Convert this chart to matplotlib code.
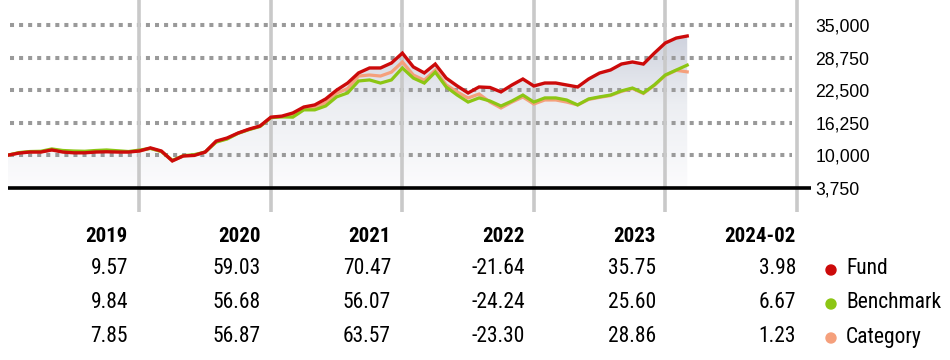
import numpy as np
import matplotlib
matplotlib.use("Agg")
import matplotlib.pyplot as plt
from matplotlib.colors import LinearSegmentedColormap

# growth of 10,000, month-end values, Dec 2018 .. Feb 2024
fund = [10000, 10400, 10600, 10600, 11000, 10600, 10450, 10450, 10600, 10650, 10600, 10600,
        10800, 11400, 10800, 8900, 9850, 9950, 10600, 12700, 13300, 14250, 15000, 15600,
        17300, 17500, 18100, 19250, 19650, 20800, 22500, 23850, 25800, 26750, 26750, 27700,
        29600, 26950, 25800, 27500, 24800, 23300, 21950, 23100, 23000, 22150, 23480, 24630,
        23290, 23860, 23860, 23480, 23100, 24630, 25780, 26360, 27510, 27900, 27500, 29600,
        31550, 32500, 32890]
benchmark = [10000, 10500, 10700, 10750, 11200, 10900, 10800, 10750, 10900, 11000, 10850, 10700,
             10980, 11300, 10700, 9000, 9900, 10100, 10600, 12500, 13100, 14200, 14900, 15500,
             17200, 17350, 17300, 18700, 18700, 19450, 21200, 21950, 24250, 24450, 23850, 24450,
             26750, 24800, 23850, 25950, 23100, 21550, 20200, 21000, 20400, 19450, 20400, 21550,
             20200, 21000, 21000, 20600, 19650, 20800, 21200, 21550, 22350, 22900, 21950, 23500,
             25400, 26350, 27300]
category = [10000, 10450, 10650, 10650, 11050, 10700, 10600, 10550, 10700, 10800, 10700, 10650,
            10800, 11300, 10700, 8900, 9850, 10000, 10600, 12600, 13200, 14200, 14950, 15550,
            17250, 17400, 17700, 18900, 19100, 20100, 21900, 22800, 25200, 25400, 25200, 25950,
            27900, 25400, 24400, 26350, 23500, 22150, 20980, 21750, 20200, 19060, 20200, 21170,
            19830, 20600, 20600, 20200, 19650, 20700, 21100, 21450, 22250, 22800, 21850, 23400,
            25300, 26300, 26000]

years = ["2019", "2020", "2021", "2022", "2023", "2024-02"]
fund_ret = ["9.57", "59.03", "70.47", "-21.64", "35.75", "3.98"]
bench_ret = ["9.84", "56.68", "56.07", "-24.24", "25.60", "6.67"]
cat_ret = ["7.85", "56.87", "63.57", "-23.30", "28.86", "1.23"]
yticks = [3750, 10000, 16250, 22500, 28750, 35000]

RED = "#cc0a0a"
GREEN = "#8cc614"
ORANGE = "#f5a07c"

W, H = 950, 360
fig = plt.figure(figsize=(W / 100, H / 100), dpi=100)

# chart area in pixels: x 8..811, y 0..212
ax = fig.add_axes([8 / W, 1 - 212 / H, (811 - 8) / W, 212 / H])
months = np.arange(len(fund))
ax.set_xlim(0, 73.3)
ax.set_ylim(-918, 39807)

# gradient fill under the fund line
cmap = LinearSegmentedColormap.from_list("g", ["#fcfcfd", "#eceef2", "#c8ccd9"])
grad = np.linspace(0, 1, 256).reshape(-1, 1)
img = ax.imshow(grad, cmap=cmap, aspect="auto", origin="lower",
                extent=[0, months[-1], 3750, 36000], zorder=1)
poly = ax.fill_between(months, 3750, fund, color="none", lw=0)
img.set_clip_path(poly.get_paths()[0], transform=ax.transData)

for yv in yticks[1:]:
    ax.plot([0.2, 71.6], [yv, yv], color="#9a9a9a", lw=2.9, dashes=(1, 1.25),
            dash_capstyle="butt", zorder=2)
for xv in [12, 24, 36, 48, 60, 72]:
    ax.axvline(xv, color="#c9c9c9", lw=2.6, zorder=2)
ax.axhline(3750, color="black", lw=2.6, zorder=5)

ax.plot(months, category, color=ORANGE, lw=2.3, zorder=3, solid_joinstyle="miter")
ax.plot(months, benchmark, color=GREEN, lw=2.3, zorder=3.5, solid_joinstyle="miter")
ax.plot(months, fund, color=RED, lw=2.4, zorder=4, solid_joinstyle="miter")

ax.yaxis.tick_right()
ax.set_yticks(yticks)
ax.set_yticklabels([f"{v:,}" for v in yticks], family=["Liberation Sans", "Arial"],
                   fontsize=12.7)
ax.tick_params(axis="y", length=0, pad=3)
ax.set_xticks([])
for s in ax.spines.values():
    s.set_visible(False)
ax.patch.set_visible(False)

# table below the chart
col_right = [128, 261, 391, 525, 656, 796]
tfont = ["Roboto Condensed", "Liberation Sans Narrow", "Roboto", "DejaVu Sans"]


def fx(px):
    return px / W


def fy(py):
    return 1 - py / H


for x, y in zip(col_right, years):
    fig.text(fx(x), fy(237), y, ha="right", va="center", fontsize=15,
             fontweight="bold", family=tfont, fontstretch="condensed")
rows = [(fund_ret, "Fund", RED, 269), (bench_ret, "Benchmark", GREEN, 303),
        (cat_ret, "Category", ORANGE, 337)]
for vals, name, col, y in rows:
    for x, v in zip(col_right, vals):
        fig.text(fx(x), fy(y), v, ha="right", va="center", fontsize=15.5, family=tfont,
                 fontstretch="condensed")
    fig.text(fx(846), fy(y), name, ha="left", va="center", fontsize=15.5, family=tfont,
             fontstretch="condensed")
    fig.patches.append(matplotlib.patches.Ellipse((fx(831), fy(y + 1)), 10 / W, 10 / H,
                                                  color=col, transform=fig.transFigure))

fig.savefig("out.png", dpi=100)
